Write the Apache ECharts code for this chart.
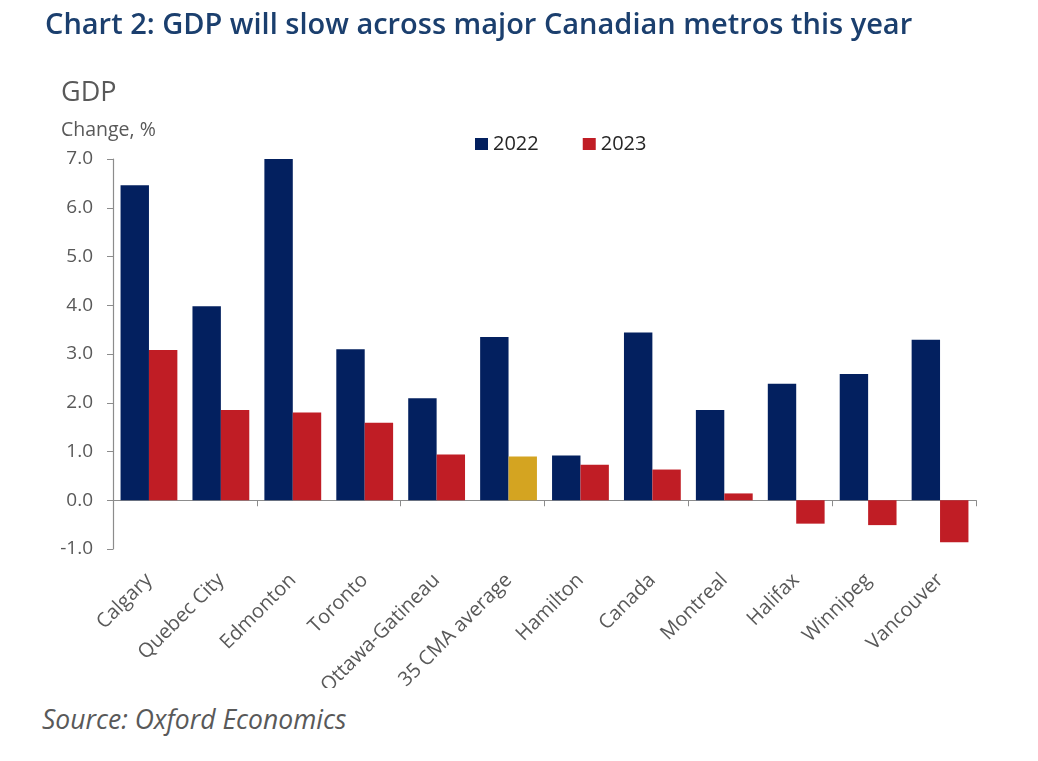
<!DOCTYPE html>
<html>
<head>
<meta charset="utf-8">
<script src="https://cdn.jsdelivr.net/npm/echarts@6/dist/echarts.min.js"></script>
<style>
  html, body { margin: 0; padding: 0; background: #fff; }
  #wrap { position: relative; width: 1038px; height: 761px; }
  #chart { position: absolute; left: 0; top: 0; width: 1038px; height: 688px; overflow: hidden; }
  #source { position: absolute; left: 42px; top: 701px; font-family: "Open Sans", sans-serif;
            font-style: italic; font-size: 26.5px; color: #595959; }
</style>
</head>
<body>
<div id="wrap">
  <div id="chart"></div>
  <div id="source">Source: Oxford Economics</div>
</div>
<script>
  // data
  var categories = ['Calgary', 'Quebec City', 'Edmonton', 'Toronto', 'Ottawa-Gatineau', '35 CMA average',
                    'Hamilton', 'Canada', 'Montreal', 'Halifax', 'Winnipeg', 'Vancouver'];
  var gdp2022 = [6.46, 3.98, 7.0, 3.1, 2.09, 3.35, 0.92, 3.44, 1.85, 2.39, 2.59, 3.29];
  var gdp2023 = [3.08, 1.85, 1.8, 1.59, 0.94, 0.9, 0.73, 0.63, 0.14, -0.48, -0.51, -0.86];
  var seriesNames = ['2022', '2023'];
  var averageLabel = '35 CMA average';

  var NAVY = '#03205f', RED = '#c01d25', GOLD = '#d4a421', TXT = '#595959', AXIS = '#8c8c8c';
  var FONT = '"Open Sans", sans-serif';

  var chart = echarts.init(document.getElementById('chart'), null, { renderer: 'canvas' });

  // the CMA average bar for 2023 is drawn in gold
  var data2023 = gdp2023.map(function (v, i) {
    if (categories[i] === averageLabel) return { value: v, itemStyle: { color: GOLD } };
    return v;
  });

  chart.setOption({
    animation: false,
    textStyle: { fontFamily: FONT },
    title: {
      text: 'Chart 2: GDP will slow across major Canadian metros this year',
      left: 40, top: 6,
      textStyle: { fontFamily: FONT, fontSize: 29, fontWeight: 600, color: '#1b3f6e' }
    },
    graphic: [
      { type: 'text', left: 61, top: 80, style: { text: 'GDP', fontFamily: FONT, fontSize: 27, fill: TXT } },
      { type: 'text', left: 61, top: 120, style: { text: 'Change, %', fontFamily: FONT, fontSize: 19.5, fill: TXT } }
    ],
    legend: {
      left: 470, top: 129,
      itemWidth: 13, itemHeight: 12, itemGap: 44,
      icon: 'rect',
      textStyle: { fontFamily: FONT, fontSize: 20, color: '#262626' },
      data: seriesNames
    },
    grid: { left: 113, right: 62, top: 159, bottom: 139, containLabel: false, outerBoundsMode: 'none' },
    xAxis: [
      {
        type: 'category', data: categories, position: 'bottom',
        axisLine: { onZero: true, lineStyle: { color: AXIS, width: 1.2 } },
        axisTick: { show: true, length: 6, lineStyle: { color: AXIS } },
        axisLabel: { show: false }
      },
      {
        type: 'category', data: categories, position: 'bottom',
        axisLine: { show: false, onZero: false },
        axisTick: { show: false },
        axisLabel: { rotate: 45, margin: 28, interval: 0, fontFamily: FONT, fontSize: 20, color: TXT }
      }
    ],
    yAxis: {
      type: 'value', min: -1, max: 7, interval: 1,
      splitLine: { show: false },
      axisLine: { show: true, lineStyle: { color: AXIS, width: 1.2 } },
      axisTick: { show: true, length: 6, lineStyle: { color: AXIS } },
      axisLabel: { margin: 20, fontFamily: FONT, fontSize: 19, color: TXT,
        formatter: function (v) { return v.toFixed(1); } }
    },
    series: [
      { name: seriesNames[0], type: 'bar', data: gdp2022, xAxisIndex: 0,
        barGap: '0%', barCategoryGap: '21%', itemStyle: { color: NAVY } },
      { name: seriesNames[1], type: 'bar', data: data2023, xAxisIndex: 0,
        barGap: '0%', barCategoryGap: '21%', itemStyle: { color: RED } }
    ]
  });
</script>
</body>
</html>
